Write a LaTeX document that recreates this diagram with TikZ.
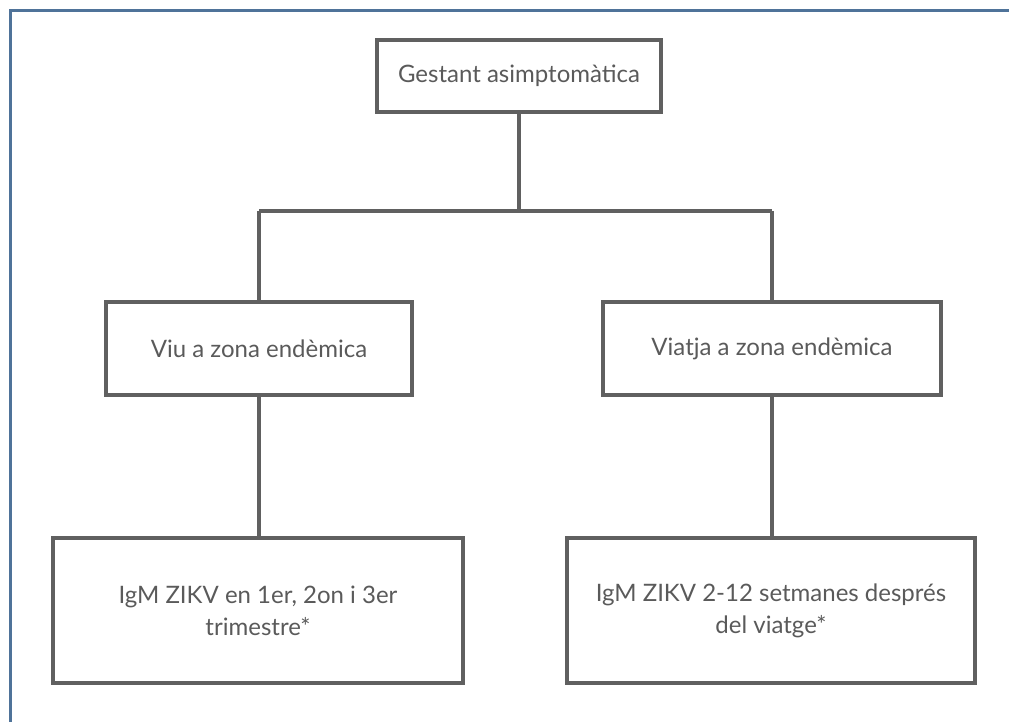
\documentclass[tikz,border=0pt]{standalone}
\usepackage{fontspec}
\setmainfont{Lato}
\definecolor{framec}{HTML}{4F7399}
\definecolor{linec}{HTML}{606060}
\definecolor{textc}{HTML}{5A5A5A}
\begin{document}
\begin{tikzpicture}[x=0.75pt,y=-0.75pt,
  box/.style={draw=linec,line width=2.3pt,rectangle,inner sep=0pt,align=center,text=textc,font=\fontsize{18}{24}\selectfont},
  conn/.style={draw=linec,line width=2.3pt}]
\useasboundingbox (0,0) rectangle (1009,721);
\draw[framec,line width=2.2pt] (1015,10.5) -- (10.5,10.5) -- (10.5,725);
\node[box,minimum width=213pt,minimum height=54pt] (top) at (519,76) {Gestant asimptomàtica};
\node[box,minimum width=229.5pt,minimum height=69.75pt] (midL) at (259,348.5) {Viu a zona endèmica};
\node[box,minimum width=253.5pt,minimum height=69.75pt] (midR) at (772,348.5) {Viatja a zona endèmica};
\node[box,minimum width=307.5pt,minimum height=108.75pt] (botL) at (258,610.5) {IgM ZIKV en 1er, 2on i 3er\\trimestre*};
\node[box,minimum width=306pt,minimum height=108.75pt] (botR) at (771,610.5) {IgM ZIKV 2-12 setmanes després\\del viatge*};
\coordinate (jl) at (259,211);
\coordinate (jr) at (772,211);
\draw[conn] (top.south) -- (top.south |- jl);
\draw[conn] (jl) -- (jr);
\draw[conn] (jl) -- (midL.north);
\draw[conn] (jr) -- (midR.north);
\draw[conn] (midL.south) -- (midL.south |- botL.north);
\draw[conn] (midR.south) -- (midR.south |- botR.north);
\end{tikzpicture}
\end{document}
